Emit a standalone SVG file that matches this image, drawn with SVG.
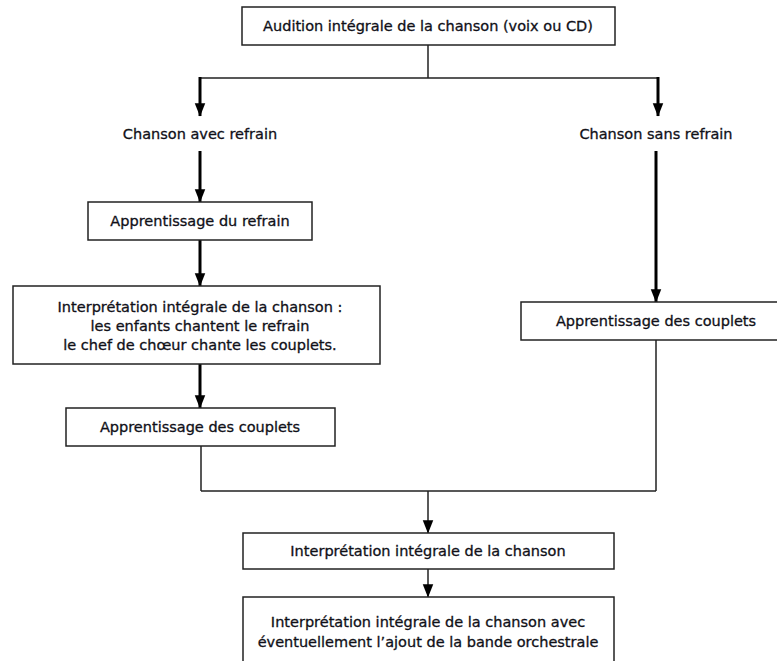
<svg xmlns="http://www.w3.org/2000/svg" width="777" height="661" viewBox="0 0 777 661">
<style>
  .box { fill: #fff; stroke: #222; stroke-width: 1.5; }
  .t { font-family: "DejaVu Sans", sans-serif; font-size: 14.5px; fill: #101018; stroke: #101018; stroke-width: 0.3; text-anchor: middle; }
  .thin { fill: none; stroke: #222; stroke-width: 1.5; }
  .thick { fill: none; stroke: #000; stroke-width: 3; }
</style>
<defs>
  <marker id="ah" markerUnits="userSpaceOnUse" markerWidth="14" markerHeight="12" refX="11" refY="5" orient="auto" viewBox="0 0 12 10">
    <path d="M0,0.5 L11.5,5 L0,9.5 Z" fill="#000"/>
  </marker>
</defs>
<g id="connectors">
  <path class="thin" d="M428,45 V78 M200,78 H658"/>
  <path class="thick" d="M200,77 V116" marker-end="url(#ah)"/>
  <path class="thick" d="M658,77 V116" marker-end="url(#ah)"/>
  <path class="thick" d="M200,151 V202" marker-end="url(#ah)"/>
  <path class="thick" d="M200,240 V286" marker-end="url(#ah)"/>
  <path class="thick" d="M200,364 V408" marker-end="url(#ah)"/>
  <path class="thick" d="M656,151 V302" marker-end="url(#ah)"/>
  <path class="thin" d="M201,446 V491 M656,340 V491 M201,491 H656"/>
  <path class="thin" d="M428,491 V533" marker-end="url(#ah)"/>
  <path class="thin" d="M428,569 V597" marker-end="url(#ah)"/>
</g>
<g id="n1">
  <rect class="box" x="242" y="7" width="373" height="38"/>
  <text class="t" x="428" y="31">Audition intégrale de la chanson (voix ou CD)</text>
</g>
<g id="n2">
  <text class="t" x="200" y="139">Chanson avec refrain</text>
</g>
<g id="n3">
  <text class="t" x="656" y="139">Chanson sans refrain</text>
</g>
<g id="n4">
  <rect class="box" x="88" y="202" width="224" height="38"/>
  <text class="t" x="200" y="226">Apprentissage du refrain</text>
</g>
<g id="n5">
  <rect class="box" x="13" y="286" width="367" height="78"/>
  <text class="t" x="200" y="312">Interprétation intégrale de la chanson :</text>
  <text class="t" x="200" y="331">les enfants chantent le refrain</text>
  <text class="t" x="200" y="350">le chef de chœur chante les couplets.</text>
</g>
<g id="n6">
  <rect class="box" x="66" y="408" width="269" height="38"/>
  <text class="t" x="200" y="432">Apprentissage des couplets</text>
</g>
<g id="n7">
  <rect class="box" x="521" y="302" width="270" height="38"/>
  <text class="t" x="656" y="326">Apprentissage des couplets</text>
</g>
<g id="n8">
  <rect class="box" x="243" y="533" width="371" height="36"/>
  <text class="t" x="428" y="556">Interprétation intégrale de la chanson</text>
</g>
<g id="n9">
  <rect class="box" x="243" y="597" width="371" height="80"/>
  <text class="t" x="428" y="627">Interprétation intégrale de la chanson avec</text>
  <text class="t" x="428" y="647">éventuellement l’ajout de la bande orchestrale</text>
</g>
</svg>
